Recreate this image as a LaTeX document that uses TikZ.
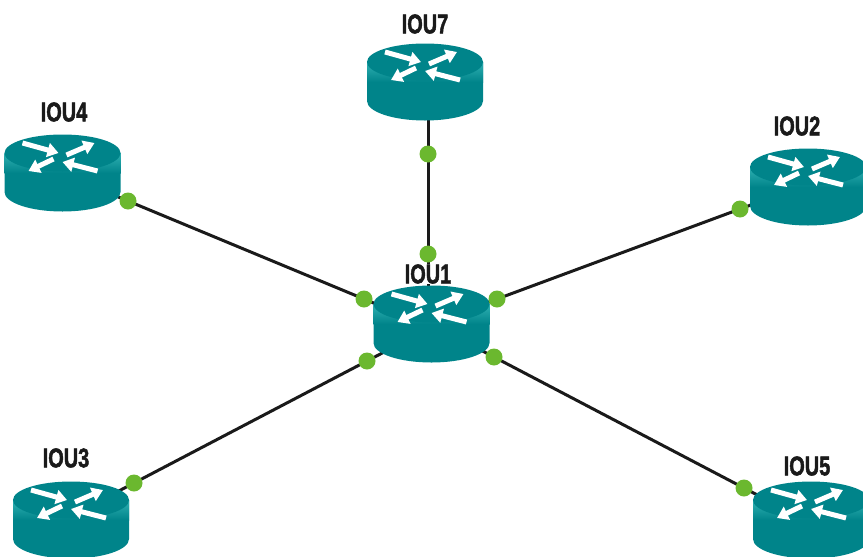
\documentclass[tikz,border=0pt]{standalone}
\usepackage{fontspec}
\setmainfont{Liberation Sans}
\newfontfamily\routerfont[FakeBold=2]{Liberation Sans Bold}
\usepackage{tikz}
\usetikzlibrary{arrows.meta}
\definecolor{routerTop}{HTML}{00848A}
\definecolor{routerEdge}{HTML}{2FB0B2}
\definecolor{portGreen}{HTML}{6BB82F}
\definecolor{inkDark}{HTML}{1A1A1A}
\tikzset{
    link/.style={draw=inkDark, line width=0.09cm, shorten >=-36pt, shorten <=-36pt},
    port/.style={circle, fill=portGreen, minimum size=0.51cm, inner sep=0pt},
    routerArrow/.style={draw=white, line width=0.15cm, -{Triangle[length=0.33cm, width=0.42cm]}},
    routerLabel/.style={font=\routerfont\fontsize{23}{25}\selectfont, text=inkDark, xscale=0.74, transform shape, inner sep=0pt, fill=white},
    pics/router/.style={code={
        % side of the cylinder, then the lid
        \fill[routerTop] (-58,0) -- (-58,39) arc[start angle=180, end angle=360, x radius=58, y radius=-19.5] -- (58,0) -- cycle;
        \path[top color=routerEdge, bottom color=routerTop] (-58,0) rectangle (58,20);
        \fill[routerTop] (0,0) ellipse[x radius=58, y radius=18.5];
        % four arrows on the lid
        \draw[routerArrow] (-40,-10) -- (-4,0);
        \draw[routerArrow] (4,2) -- (32,-10);
        \draw[routerArrow] (-9,6) -- (-34,18);
        \draw[routerArrow] (35,18) -- (0,9);
    }}
}
\begin{document}
\begin{tikzpicture}[x=0.03cm, y=-0.03cm]
    \useasboundingbox (0,0) rectangle (863,557);
    \clip (0,0) rectangle (863,557);

    % Define coordinates for the ports
    \coordinate (P1) at (428,154);
    \coordinate (P2) at (428,254);
    \coordinate (P3) at (128,201);
    \coordinate (P4) at (364,299);
    \coordinate (P5) at (740,209);
    \coordinate (P6) at (497,299);
    \coordinate (P7) at (134,483);
    \coordinate (P8) at (367,361);
    \coordinate (P9) at (744,488);
    \coordinate (P10) at (494,357);

    % Connect the ports
    \foreach \a/\b in {1/2, 3/4, 5/6, 7/8, 9/10}
        \draw[link] (P\a) -- (P\b);

    % Draw the routers
    \foreach \n/\x/\y in {1/431.5/304, 7/425/62, 4/62.5/153, 2/808/167, 3/71/500, 5/811/500}
        \pic (router\n) at (\x,\y) {router};

    % Labels
    \foreach \n/\x/\y in {1/428/274, 7/425/24, 4/64/112, 2/797/126, 3/66/458, 5/807/466}
        \node[routerLabel] (label\n) at (\x,\y) {IOU\n};

    % Ports on top
    \foreach \i in {1, ..., 10}
        \node[port] (port\i) at (P\i) {};
\end{tikzpicture}
\end{document}
